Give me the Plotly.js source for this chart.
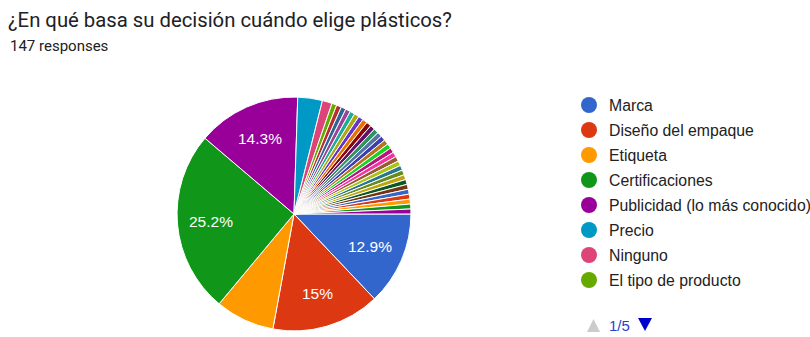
<!DOCTYPE html>
<html>
<head>
<meta charset="utf-8">
<script src="https://cdn.plot.ly/plotly-3.0.1.min.js"></script>
<style>html,body{margin:0;padding:0;background:#fff;}#chart{width:810px;height:337px;}</style>
</head>
<body>
<div id="chart"></div>
<script>
// Data
const mainLabels = ["Marca", "Diseño del empaque", "Etiqueta", "Certificaciones", "Publicidad (lo más conocido)", "Precio", "Ninguno", "El tipo de producto"];
const mainValues = [19, 22, 12, 37, 21, 5, 2, 1];
// remaining single-response answers (pages 2-5 of the legend)
const otherLabels = ["Respuesta 9","Respuesta 10","Respuesta 11","Respuesta 12","Respuesta 13","Respuesta 14","Respuesta 15","Respuesta 16","Respuesta 17","Respuesta 18","Respuesta 19","Respuesta 20","Respuesta 21","Respuesta 22","Respuesta 23","Respuesta 24","Respuesta 25","Respuesta 26","Respuesta 27","Respuesta 28","Respuesta 29","Respuesta 30","Respuesta 31","Respuesta 32","Respuesta 33","Respuesta 34","Respuesta 35","Respuesta 36"];
const otherValues = [1,1,1,1,1,1,1,1,1,1,1,1,1,1,1,1,1,1,1,1,1,1,1,1,1,1,1,1];
const palette = ["#3366cc","#dc3912","#ff9900","#109618","#990099","#0099c6","#dd4477","#66aa00","#b82e2e","#316395","#994499","#22aa99","#aaaa11","#6633cc","#e67300","#8b0707","#651067","#329262","#5574a6","#3b3eac","#b77322","#16d620","#b91383","#f4359e","#9c5935","#a9c413","#2a778d","#668d1c","#bea413","#0c5922","#743411"];
const titleText = "¿En qué basa su decisión cuándo elige plásticos?";
const subtitleText = "147 responses";

const W = 810, H = 337;
const labels = mainLabels.concat(otherLabels);
const values = mainValues.concat(otherValues);
const total = values.reduce((a, b) => a + b, 0);
const colors = labels.map((_, i) => palette[i % palette.length]);
const texts = values.map(v => {
  const p = v / total * 100;
  if (p < 10) return "";
  return (Math.round(p * 10) / 10).toString() + "%";
});

const domX = [0.2185, 0.5074], domY = [0.018, 0.712];
const startAngle = 90; // degrees clockwise from 12 o'clock
const trace = {
  type: "pie",
  labels: labels,
  values: values,
  textinfo: "none",
  sort: false,
  direction: "clockwise",
  rotation: startAngle,
  marker: {colors: colors, line: {color: "#ffffff", width: 1}},
  domain: {x: domX, y: domY},
  hoverinfo: "none",
  showlegend: false
};

const annotations = [{
  text: subtitleText, xref: "paper", yref: "paper", x: 8/W, y: 1 - 46/H,
  xanchor: "left", yanchor: "middle", showarrow: false,
  font: {family: "Roboto, Arial, sans-serif", size: 15, color: "#202124"}
}];

// percentage labels placed along each slice's mid-angle (Google style, ~0.7 R)
const cxPx = (domX[0] + domX[1]) / 2 * W;
const cyPx = (1 - (domY[0] + domY[1]) / 2) * H;
const Rpx = Math.min((domX[1] - domX[0]) * W, (domY[1] - domY[0]) * H) / 2;
let cum = 0;
values.forEach((v, i) => {
  const mid = startAngle + (cum + v / 2) / total * 360;
  cum += v;
  if (!texts[i]) return;
  const a = mid * Math.PI / 180;
  const px = cxPx + 0.71 * Rpx * Math.sin(a);
  const py = cyPx - 0.71 * Rpx * Math.cos(a);
  annotations.push({text: texts[i], xref: "paper", yref: "paper", x: px / W, y: 1 - py / H,
    xanchor: "center", yanchor: "middle", showarrow: false,
    font: {family: "Arial, 'Liberation Sans', sans-serif", size: 15.5, color: "#ffffff"}});
});

const shapes = [];
const rowX = 589, textX = 607, row0 = 105, rowStep = 25, r = 8;
mainLabels.forEach((lab, i) => {
  const cy = row0 + i * rowStep;
  shapes.push({type: "circle", xref: "paper", yref: "paper",
    x0: (rowX - r)/W, x1: (rowX + r)/W, y0: 1 - (cy + r)/H, y1: 1 - (cy - r)/H,
    fillcolor: palette[i], line: {width: 0}});
  annotations.push({text: lab, xref: "paper", yref: "paper", x: textX/W, y: 1 - cy/H,
    xanchor: "left", yanchor: "middle", showarrow: false,
    font: {family: "Arial, 'Liberation Sans', sans-serif", size: 15.8, color: "#222222"}});
});
// pager
const pyPager = 325;
shapes.push({type: "path", xref: "paper", yref: "paper",
  path: `M ${587/W} ${1-332/H} L ${600/W} ${1-332/H} L ${593.5/W} ${1-319/H} Z`,
  fillcolor: "#cccccc", line: {width: 0}});
shapes.push({type: "path", xref: "paper", yref: "paper",
  path: `M ${638/W} ${1-318/H} L ${652/W} ${1-318/H} L ${645/W} ${1-331/H} Z`,
  fillcolor: "#0000cc", line: {width: 0}});
annotations.push({text: "1/5", xref: "paper", yref: "paper", x: 607/W, y: 1 - pyPager/H,
  xanchor: "left", yanchor: "middle", showarrow: false,
  font: {family: "Arial, 'Liberation Sans', sans-serif", size: 15, color: "#2a3fc8"}});

const layout = {
  width: W, height: H,
  margin: {l: 0, r: 0, t: 0, b: 0},
  paper_bgcolor: "#ffffff",
  title: {text: titleText, x: 8/W, xanchor: "left", xref: "paper",
    y: 1 - 20/H, yanchor: "middle", yref: "container",
    font: {family: "Roboto, Arial, sans-serif", size: 20.3, color: "#202124"}},
  annotations: annotations,
  shapes: shapes,
  showlegend: false
};
Plotly.newPlot("chart", [trace], layout, {displayModeBar: false, staticPlot: true});
</script>
</body>
</html>
